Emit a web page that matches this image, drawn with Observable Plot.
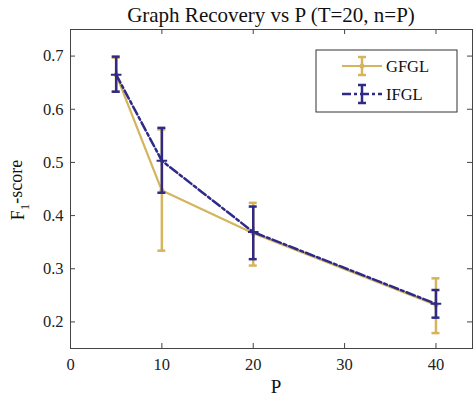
<!DOCTYPE html>
<html><head><meta charset="utf-8">
<script src="https://cdn.jsdelivr.net/npm/d3@7"></script>
<script src="https://cdn.jsdelivr.net/npm/@observablehq/plot@0.6"></script>
<style>body{margin:0;background:#fff;} #chart{width:473px;height:396px;}</style>
</head><body><div id="chart"></div>
<script>
const P = [5, 10, 20, 40];
const gfgl   = [0.665, 0.447, 0.367, 0.232];
const gfglLo = [0.633, 0.334, 0.306, 0.179];
const gfglHi = [0.697, 0.562, 0.424, 0.282];
const ifgl   = [0.665, 0.503, 0.369, 0.234];
const ifglLo = [0.633, 0.443, 0.318, 0.208];
const ifglHi = [0.699, 0.565, 0.417, 0.260];
const xTicks = [0, 10, 20, 30, 40];
const yTicks = [0.2, 0.3, 0.4, 0.5, 0.6, 0.7];
const xDomain = [0, 44];
const yDomain = [0.15, 0.75];
const seriesNames = ["GFGL", "IFGL"];
const titleText = "Graph Recovery vs P (T=20, n=P)";

const gold = "#d4b45c", navy = "#2e2a86", axisColor = "#444";
const font = "Liberation Serif, Times New Roman, serif";

const rows = P.map((p, i) => ({p, g: gfgl[i], gLo: gfglLo[i], gHi: gfglHi[i], v: ifgl[i], vLo: ifglLo[i], vHi: ifglHi[i]}));

function errorBars(lo, hi, color) {
  return [
    Plot.ruleX(rows, {x: "p", y1: lo, y2: hi, stroke: color, strokeWidth: 2.5}),
    Plot.ruleY(rows, {y: lo, x1: "p", x2: "p", insetLeft: -4, insetRight: -4, stroke: color, strokeWidth: 2.5}),
    Plot.ruleY(rows, {y: hi, x1: "p", x2: "p", insetLeft: -4, insetRight: -4, stroke: color, strokeWidth: 2.5})
  ];
}

const svg = Plot.plot({
  width: 473, height: 396,
  marginLeft: 70, marginRight: 1, marginTop: 29, marginBottom: 48,
  style: {fontFamily: font, fontSize: "16.5px", background: "white", color: "#222"},
  x: {domain: xDomain},
  y: {domain: yDomain},
  marks: [
    Plot.frame({stroke: axisColor}),
    Plot.axisX({ticks: xTicks, tickSize: 0, tickPadding: 10, label: null, fontFamily: font, fontSize: 16.5}),
    Plot.axisY({ticks: yTicks, tickSize: 0, tickPadding: 7, label: null, tickFormat: d3.format(".1f"), fontFamily: font, fontSize: 16.5}),
    Plot.ruleX(xTicks, {x: d => d, y1: yDomain[0], y2: yDomain[0], insetTop: -5, stroke: axisColor}),
    Plot.ruleX(xTicks, {x: d => d, y1: yDomain[1], y2: yDomain[1], insetBottom: -5, stroke: axisColor}),
    Plot.ruleY(yTicks, {y: d => d, x1: xDomain[0], x2: xDomain[0], insetRight: -5, stroke: axisColor}),
    Plot.ruleY(yTicks, {y: d => d, x1: xDomain[1], x2: xDomain[1], insetLeft: -5, stroke: axisColor}),
    Plot.line(rows, {x: "p", y: "g", stroke: gold, strokeWidth: 2.2}),
    ...errorBars("gLo", "gHi", gold),
    Plot.dot(rows, {x: "p", y: "g", r: 2.5, fill: gold}),
    Plot.line(rows, {x: "p", y: "v", stroke: navy, strokeWidth: 2.5, strokeDasharray: "9,3,3,3"}),
    ...errorBars("vLo", "vHi", navy),
    Plot.dot(rows, {x: "p", y: "v", symbol: "plus", r: 3.5, stroke: navy, strokeWidth: 2})
  ]
});

const s = d3.select(svg).attr("font-family", font);
s.append("text").attr("x", 271).attr("y", 22).attr("text-anchor", "middle")
  .attr("font-size", 21).attr("fill", "#111").text(titleText);
s.append("text").attr("x", 276).attr("y", 393).attr("text-anchor", "middle")
  .attr("font-size", 19).attr("fill", "#111").text("P");
const yl = s.append("text").attr("transform", "translate(24,190) rotate(-90)")
  .attr("text-anchor", "middle").attr("font-size", 18).attr("fill", "#111");
yl.append("tspan").text("F");
yl.append("tspan").attr("dy", "0.35em").attr("font-size", 13).text("1");
yl.append("tspan").attr("dy", "-0.35em").text("-score");

// legend
const lg = s.append("g");
lg.append("rect").attr("x", 316).attr("y", 50).attr("width", 141).attr("height", 62)
  .attr("fill", "white").attr("stroke", "#333");
const legendItems = [
  {name: seriesNames[0], color: gold, dash: null, y: 66},
  {name: seriesNames[1], color: navy, dash: "9,3,3,3", y: 94}
];
legendItems.forEach((it, k) => {
  lg.append("line").attr("x1", 342).attr("x2", 382).attr("y1", it.y).attr("y2", it.y)
    .attr("stroke", it.color).attr("stroke-width", k ? 2.5 : 2.2).attr("stroke-dasharray", it.dash);
  lg.append("line").attr("x1", 362).attr("x2", 362).attr("y1", it.y - 9).attr("y2", it.y + 9)
    .attr("stroke", it.color).attr("stroke-width", 2.5);
  [it.y - 9, it.y + 9].forEach(cy => lg.append("line").attr("x1", 358).attr("x2", 366)
    .attr("y1", cy).attr("y2", cy).attr("stroke", it.color).attr("stroke-width", 2.5));
  if (k === 0) lg.append("circle").attr("cx", 362).attr("cy", it.y).attr("r", 2.5).attr("fill", it.color);
  lg.append("text").attr("x", 386).attr("y", it.y + 6).attr("text-anchor", "start")
    .attr("font-size", 16.5).attr("fill", "#111").text(it.name);
});

document.getElementById("chart").appendChild(svg);
</script>
</body></html>
